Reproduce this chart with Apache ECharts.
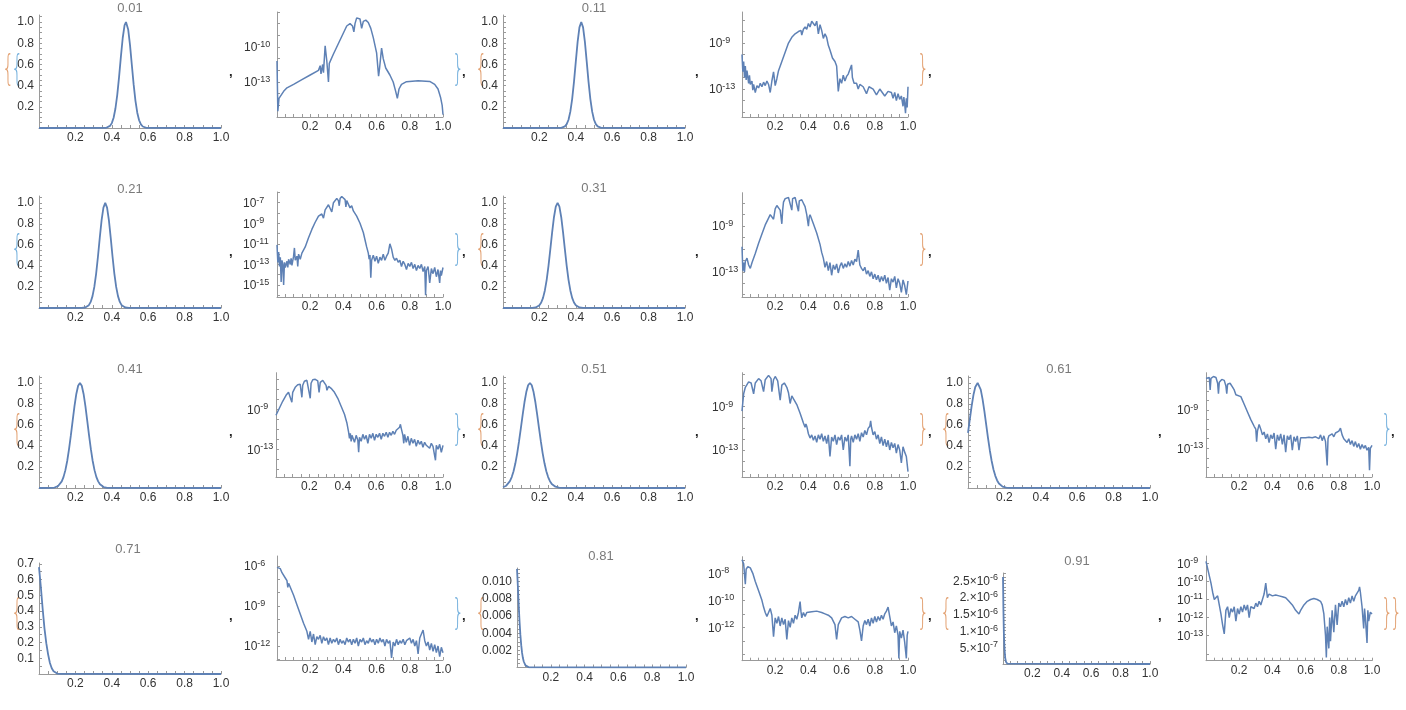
<!DOCTYPE html>
<html><head><meta charset="utf-8">
<script src="https://cdn.jsdelivr.net/npm/echarts@6/dist/echarts.min.js"></script>
<style>html,body{margin:0;padding:0;background:#fff}#c{width:1406px;height:710px}</style>
</head><body><div id="c"></div>
<script>
// ---------------- DATA ----------------
const titles = ['0.01','0.11','0.21','0.31','0.41','0.51','0.61','0.71','0.81','0.91'];
const xLabelVals = [0.2,0.4,0.6,0.8,1.0];
const xTickVals = [0,0.05,0.1,0.15,0.2,0.25,0.3,0.35,0.4,0.45,0.5,0.55,0.6,0.65,0.7,0.75,0.8,0.85,0.9,0.95,1.0];
const linLabelsStd = [0.2,0.4,0.6,0.8,1.0];
const lin8Labels = [0.1,0.2,0.3,0.4,0.5,0.6,0.7];
const lin9Labels = [0.002,0.004,0.006,0.008,0.010];
const lin10LabelVals = [5e-7,1e-6,1.5e-6,2e-6,2.5e-6];
const lin10Mant = ['5.','1.','1.5','2.','2.5'];
const lin10Exp = ['-7','-6','-6','-6','-6'];
const logLabelExps = [[-10,-13],[-9,-13],[-7,-9,-11,-13,-15],[-9,-13],[-9,-13],[-9,-13],[-9,-13],[-6,-9,-12],[-8,-10,-12],[-9,-10,-11,-12,-13]];

const lin1 = [[0,0],[0.37,0.002],[0.38,0.008],[0.39,0.02],[0.40,0.046],[0.41,0.097],[0.42,0.184],[0.43,0.313],[0.44,0.483],[0.45,0.674],[0.46,0.849],[0.47,0.968],[0.478,1.0],[0.49,0.93],[0.50,0.784],[0.51,0.597],[0.52,0.411],[0.53,0.256],[0.54,0.144],[0.55,0.073],[0.56,0.034],[0.57,0.014],[0.58,0.005],[0.59,0.002],[1,0]];
const lin2 = [[0,0],[0.32,0.0015],[0.33,0.0055],[0.34,0.015],[0.35,0.036],[0.36,0.078],[0.37,0.154],[0.38,0.273],[0.39,0.435],[0.40,0.626],[0.41,0.812],[0.42,0.949],[0.43,1.0],[0.44,0.949],[0.45,0.812],[0.46,0.626],[0.47,0.435],[0.48,0.273],[0.49,0.154],[0.50,0.078],[0.51,0.036],[0.52,0.015],[0.53,0.0055],[0.54,0.0017],[1,0]];
const lin3 = [[0,0],[0.234,0.0005],[0.244,0.0016],[0.254,0.0046],[0.264,0.0116],[0.274,0.027],[0.284,0.058],[0.294,0.113],[0.304,0.201],[0.314,0.328],[0.324,0.49],[0.334,0.67],[0.344,0.837],[0.354,0.956],[0.364,1.0],[0.374,0.956],[0.384,0.837],[0.394,0.67],[0.404,0.49],[0.414,0.328],[0.424,0.201],[0.434,0.113],[0.444,0.058],[0.454,0.027],[0.464,0.0116],[0.474,0.0046],[0.484,0.0016],[0.494,0.0005],[1,0]];
const lin4 = [[0,0],[0.16,0.0008],[0.17,0.0021],[0.18,0.0052],[0.19,0.012],[0.20,0.026],[0.21,0.052],[0.22,0.0966],[0.23,0.167],[0.24,0.268],[0.25,0.401],[0.26,0.558],[0.27,0.72],[0.28,0.864],[0.29,0.964],[0.30,1.0],[0.31,0.964],[0.32,0.864],[0.33,0.72],[0.34,0.558],[0.35,0.401],[0.36,0.268],[0.37,0.167],[0.38,0.0966],[0.39,0.052],[0.40,0.026],[0.41,0.012],[0.42,0.0052],[0.43,0.0021],[0.44,0.0008],[1,0]];
const lin5 = [[0,0],[0.065,0.0009],[0.075,0.002],[0.085,0.0044],[0.095,0.0093],[0.105,0.0186],[0.115,0.035],[0.125,0.063],[0.135,0.106],[0.145,0.17],[0.155,0.257],[0.165,0.369],[0.175,0.5],[0.185,0.642],[0.195,0.779],[0.205,0.895],[0.215,0.973],[0.225,1.0],[0.235,0.973],[0.245,0.895],[0.255,0.779],[0.265,0.642],[0.275,0.5],[0.285,0.369],[0.295,0.257],[0.305,0.17],[0.315,0.106],[0.325,0.063],[0.335,0.035],[0.345,0.0186],[0.355,0.0093],[0.365,0.0044],[0.375,0.002],[0.385,0.0009],[1,0]];
const lin6 = [[0,0.007],[0.008,0.012],[0.018,0.022],[0.028,0.038],[0.038,0.065],[0.048,0.104],[0.058,0.16],[0.068,0.235],[0.078,0.33],[0.088,0.443],[0.098,0.568],[0.108,0.696],[0.118,0.816],[0.128,0.913],[0.138,0.978],[0.148,1.0],[0.158,0.978],[0.168,0.913],[0.178,0.816],[0.188,0.696],[0.198,0.568],[0.208,0.443],[0.218,0.33],[0.228,0.235],[0.238,0.16],[0.248,0.104],[0.258,0.065],[0.268,0.038],[0.278,0.022],[0.288,0.012],[0.298,0.0061],[0.308,0.003],[0.318,0.0014],[0.33,0.0005],[1,0]];
const lin7 = [[0,0.525],[0.01,0.654],[0.02,0.779],[0.03,0.886],[0.04,0.962],[0.053,1.0],[0.06,0.989],[0.07,0.936],[0.08,0.846],[0.09,0.731],[0.10,0.603],[0.11,0.475],[0.12,0.357],[0.13,0.257],[0.14,0.176],[0.15,0.116],[0.16,0.072],[0.17,0.043],[0.18,0.025],[0.19,0.0135],[0.20,0.007],[0.21,0.0035],[0.22,0.0016],[0.23,0.0007],[1,0]];
const lin8 = [[0,0.679],[0.01,0.554],[0.02,0.416],[0.03,0.29],[0.04,0.196],[0.05,0.125],[0.06,0.07],[0.07,0.037],[0.08,0.018],[0.09,0.008],[0.10,0.003],[0.11,0.001],[0.12,0.0003],[1,0]];
const lin9 = [[0,0.0115],[0.005,0.0095],[0.01,0.0073],[0.015,0.0054],[0.02,0.0038],[0.025,0.0026],[0.03,0.0017],[0.035,0.0011],[0.04,0.0007],[0.05,0.00025],[0.06,0.00008],[0.07,0.00002],[1,0]];
const lin10 = [[0,2.6e-6],[0.003,1.6e-6],[0.006,9e-7],[0.01,4.5e-7],[0.015,1.8e-7],[0.02,7e-8],[0.03,1e-8],[0.04,1e-9],[1,0]];

// log plots: [x, log10(value)]
const log1 = [[0,-11.2],[0.005,-15.5],[0.012,-14.4],[0.04,-13.8],[0.06,-13.5],[0.1,-13.2],[0.15,-12.8],[0.2,-12.4],[0.25,-12.0],[0.26,-11.6],[0.265,-12.3],[0.275,-11.5],[0.28,-12.2],[0.29,-9.9],[0.30,-11.2],[0.31,-13.0],[0.315,-11.4],[0.34,-10.6],[0.37,-9.7],[0.40,-8.8],[0.42,-8.2],[0.44,-8.0],[0.455,-8.2],[0.463,-8.7],[0.47,-8.0],[0.48,-7.5],[0.49,-7.35],[0.50,-7.6],[0.51,-8.4],[0.52,-7.8],[0.535,-7.7],[0.55,-7.9],[0.565,-8.4],[0.58,-9.2],[0.6,-10.5],[0.612,-12.5],[0.618,-11.8],[0.63,-10.1],[0.64,-11.0],[0.655,-11.8],[0.68,-12.4],[0.70,-13.0],[0.715,-13.8],[0.725,-14.4],[0.735,-13.6],[0.75,-13.2],[0.78,-12.97],[0.85,-12.9],[0.92,-12.95],[0.95,-13.2],[0.97,-13.6],[0.985,-14.3],[0.995,-15.0],[1.0,-15.8]];
const log2 = [[0,-10.0],[0.005,-11.5],[0.01,-10.6],[0.015,-12.0],[0.02,-11.0],[0.025,-12.2],[0.03,-11.4],[0.04,-12.5],[0.045,-11.8],[0.05,-12.6],[0.06,-12.3],[0.065,-13.1],[0.07,-12.6],[0.08,-13.3],[0.09,-12.7],[0.10,-12.9],[0.11,-12.5],[0.12,-12.8],[0.13,-12.4],[0.14,-12.7],[0.15,-12.3],[0.16,-12.6],[0.17,-13.3],[0.18,-12.3],[0.19,-11.5],[0.2,-12.7],[0.21,-12.1],[0.22,-11.4],[0.24,-10.6],[0.26,-9.8],[0.28,-9.0],[0.30,-8.5],[0.32,-8.2],[0.34,-8.0],[0.355,-7.9],[0.36,-8.3],[0.37,-7.8],[0.38,-7.6],[0.39,-7.8],[0.40,-7.3],[0.41,-7.6],[0.42,-7.1],[0.43,-7.0],[0.44,-7.5],[0.45,-7.1],[0.46,-8.2],[0.47,-7.4],[0.48,-7.9],[0.49,-8.6],[0.50,-8.2],[0.51,-8.5],[0.52,-9.2],[0.53,-9.6],[0.545,-10.3],[0.56,-10.6],[0.57,-11.0],[0.58,-13.2],[0.59,-12.1],[0.60,-12.5],[0.61,-11.8],[0.62,-12.3],[0.63,-11.9],[0.64,-11.7],[0.65,-11.3],[0.66,-10.9],[0.665,-12.0],[0.675,-12.5],[0.69,-12.5],[0.70,-13.0],[0.71,-12.6],[0.73,-12.8],[0.75,-13.4],[0.765,-12.8],[0.79,-13.0],[0.81,-13.5],[0.83,-13.0],[0.86,-13.6],[0.88,-13.2],[0.9,-13.3],[0.91,-13.8],[0.92,-13.3],[0.93,-14.0],[0.94,-13.4],[0.95,-13.9],[0.96,-13.6],[0.97,-14.5],[0.975,-13.7],[0.98,-14.3],[0.985,-15.1],[0.99,-13.8],[0.995,-14.6],[1.0,-12.8]];
const log3 = [[0,-11.1],[0.005,-12.8],[0.01,-11.8],[0.015,-13.2],[0.02,-12.3],[0.025,-14.7],[0.03,-12.6],[0.035,-13.0],[0.04,-15.0],[0.045,-12.8],[0.05,-13.3],[0.06,-12.7],[0.065,-13.3],[0.07,-12.5],[0.08,-13.0],[0.085,-12.4],[0.09,-13.1],[0.10,-12.2],[0.105,-11.4],[0.11,-12.6],[0.12,-12.2],[0.125,-13.2],[0.13,-12.0],[0.14,-12.5],[0.15,-11.9],[0.17,-11.3],[0.19,-10.4],[0.21,-9.6],[0.23,-8.9],[0.25,-8.3],[0.27,-8.1],[0.28,-8.5],[0.29,-7.7],[0.31,-7.2],[0.32,-7.3],[0.33,-7.9],[0.34,-7.0],[0.36,-6.6],[0.37,-6.8],[0.375,-7.3],[0.38,-6.6],[0.39,-6.4],[0.40,-6.5],[0.41,-6.7],[0.415,-7.4],[0.42,-6.8],[0.43,-6.9],[0.44,-7.5],[0.45,-7.3],[0.46,-7.8],[0.48,-8.3],[0.50,-9.0],[0.52,-9.9],[0.53,-10.6],[0.54,-11.3],[0.55,-11.9],[0.555,-12.5],[0.56,-12.1],[0.565,-14.3],[0.57,-12.6],[0.58,-12.1],[0.59,-12.7],[0.60,-12.2],[0.61,-12.9],[0.62,-12.3],[0.63,-12.6],[0.64,-12.0],[0.65,-12.6],[0.66,-12.2],[0.67,-11.9],[0.68,-11.0],[0.69,-11.5],[0.70,-12.3],[0.71,-12.6],[0.72,-12.4],[0.73,-12.8],[0.74,-12.6],[0.75,-13.2],[0.76,-12.7],[0.77,-13.0],[0.78,-13.5],[0.79,-12.9],[0.80,-13.2],[0.81,-12.8],[0.82,-13.4],[0.83,-13.0],[0.84,-13.6],[0.85,-13.1],[0.86,-13.4],[0.87,-13.0],[0.88,-13.7],[0.89,-13.2],[0.895,-16.0],[0.9,-13.6],[0.91,-13.2],[0.92,-14.8],[0.93,-13.4],[0.94,-13.9],[0.95,-13.3],[0.96,-14.2],[0.97,-13.5],[0.98,-14.8],[0.985,-13.6],[0.99,-14.1],[1.0,-13.3]];
const log4 = [[0,-10.8],[0.005,-12.9],[0.01,-12.2],[0.015,-13.0],[0.02,-12.1],[0.03,-11.8],[0.04,-12.4],[0.05,-12.7],[0.06,-12.2],[0.08,-11.4],[0.10,-10.5],[0.12,-9.7],[0.14,-8.9],[0.16,-8.3],[0.17,-8.0],[0.18,-7.9],[0.19,-8.4],[0.20,-7.5],[0.21,-7.2],[0.22,-7.2],[0.23,-7.6],[0.24,-8.8],[0.245,-7.6],[0.25,-6.9],[0.26,-6.6],[0.27,-6.6],[0.28,-6.5],[0.29,-6.45],[0.30,-7.6],[0.305,-6.6],[0.31,-6.45],[0.32,-6.5],[0.33,-6.6],[0.34,-7.7],[0.345,-6.8],[0.36,-6.7],[0.37,-7.0],[0.38,-7.3],[0.39,-8.0],[0.40,-9.0],[0.405,-8.2],[0.41,-8.0],[0.43,-8.8],[0.45,-9.6],[0.47,-10.6],[0.48,-11.3],[0.49,-11.8],[0.50,-12.6],[0.51,-12.1],[0.52,-12.9],[0.53,-12.2],[0.54,-13.3],[0.55,-12.4],[0.56,-12.8],[0.57,-12.3],[0.58,-13.1],[0.59,-12.5],[0.60,-12.2],[0.61,-12.7],[0.62,-12.3],[0.63,-12.6],[0.64,-12.1],[0.65,-12.5],[0.66,-12.0],[0.67,-12.4],[0.68,-11.9],[0.69,-12.1],[0.70,-11.1],[0.71,-12.4],[0.72,-12.7],[0.73,-12.9],[0.74,-12.6],[0.75,-13.2],[0.76,-12.9],[0.77,-13.4],[0.78,-13.0],[0.79,-13.6],[0.80,-13.2],[0.81,-13.7],[0.82,-13.3],[0.83,-13.9],[0.84,-13.4],[0.85,-13.8],[0.86,-13.3],[0.87,-14.0],[0.88,-13.5],[0.89,-14.6],[0.9,-13.6],[0.91,-13.9],[0.92,-13.4],[0.93,-14.4],[0.94,-13.6],[0.95,-14.0],[0.96,-14.8],[0.97,-13.7],[0.98,-14.2],[0.99,-15.0],[1.0,-13.8]];
const log5 = [[0,-9.6],[0.02,-8.9],[0.04,-8.2],[0.06,-7.6],[0.075,-7.3],[0.085,-7.25],[0.095,-8.3],[0.10,-7.3],[0.115,-6.8],[0.13,-6.55],[0.145,-6.5],[0.155,-7.8],[0.16,-6.6],[0.17,-6.2],[0.185,-6.1],[0.195,-6.2],[0.205,-7.9],[0.21,-6.4],[0.22,-6.05],[0.235,-6.0],[0.25,-6.15],[0.258,-7.3],[0.265,-6.3],[0.28,-6.1],[0.29,-6.25],[0.30,-6.6],[0.305,-7.1],[0.315,-6.7],[0.33,-6.9],[0.35,-7.3],[0.37,-7.9],[0.39,-8.7],[0.41,-9.5],[0.425,-10.4],[0.435,-11.3],[0.44,-11.9],[0.445,-11.4],[0.45,-12.2],[0.455,-11.6],[0.46,-11.5],[0.47,-12.3],[0.48,-11.6],[0.49,-12.1],[0.495,-13.3],[0.50,-11.8],[0.51,-12.2],[0.52,-11.5],[0.53,-12.0],[0.54,-11.6],[0.55,-12.4],[0.56,-11.5],[0.57,-11.9],[0.58,-11.4],[0.59,-12.1],[0.60,-11.5],[0.61,-11.8],[0.62,-11.4],[0.63,-12.0],[0.64,-11.4],[0.65,-11.7],[0.66,-11.3],[0.67,-11.8],[0.68,-11.3],[0.69,-11.6],[0.70,-11.2],[0.71,-11.5],[0.72,-11.1],[0.73,-11.3],[0.74,-10.8],[0.745,-10.5],[0.75,-10.9],[0.76,-11.6],[0.765,-12.4],[0.77,-11.5],[0.78,-12.3],[0.79,-11.7],[0.80,-12.6],[0.81,-11.9],[0.82,-12.4],[0.83,-12.0],[0.84,-12.7],[0.85,-12.1],[0.86,-12.5],[0.87,-12.2],[0.88,-12.8],[0.89,-12.3],[0.9,-12.6],[0.91,-12.4],[0.92,-12.9],[0.93,-12.4],[0.94,-12.7],[0.95,-12.5],[0.955,-14.1],[0.96,-12.6],[0.97,-13.0],[0.98,-12.5],[0.99,-13.3],[1.0,-12.6]];
const log6 = [[0,-9.4],[0.01,-7.8],[0.02,-7.2],[0.04,-6.7],[0.055,-6.8],[0.07,-7.8],[0.08,-6.8],[0.10,-6.4],[0.115,-6.6],[0.13,-7.6],[0.14,-6.5],[0.16,-6.1],[0.175,-6.4],[0.18,-7.6],[0.19,-6.5],[0.20,-6.2],[0.215,-6.6],[0.23,-8.4],[0.24,-7.0],[0.255,-6.8],[0.27,-7.2],[0.28,-7.7],[0.29,-8.7],[0.30,-8.0],[0.31,-8.1],[0.33,-8.8],[0.35,-9.6],[0.37,-10.5],[0.38,-10.9],[0.385,-10.6],[0.39,-10.8],[0.40,-11.5],[0.41,-11.9],[0.42,-11.6],[0.43,-12.1],[0.44,-11.7],[0.45,-12.3],[0.46,-11.6],[0.47,-12.0],[0.48,-11.5],[0.49,-12.2],[0.50,-11.7],[0.51,-12.4],[0.52,-11.6],[0.53,-13.6],[0.54,-11.8],[0.55,-12.2],[0.56,-11.6],[0.57,-12.5],[0.58,-11.8],[0.59,-12.1],[0.60,-11.6],[0.61,-13.0],[0.62,-11.8],[0.63,-12.2],[0.64,-11.6],[0.65,-14.5],[0.655,-12.0],[0.66,-11.7],[0.67,-12.3],[0.68,-11.6],[0.69,-12.0],[0.70,-11.5],[0.71,-12.2],[0.72,-11.4],[0.73,-11.8],[0.74,-11.2],[0.75,-11.6],[0.76,-11.0],[0.77,-10.8],[0.775,-10.3],[0.78,-10.9],[0.79,-11.6],[0.80,-11.3],[0.81,-12.0],[0.82,-11.6],[0.83,-12.4],[0.84,-11.8],[0.85,-12.6],[0.86,-12.0],[0.87,-12.7],[0.88,-12.1],[0.89,-13.0],[0.90,-12.3],[0.91,-12.8],[0.92,-12.4],[0.93,-13.3],[0.94,-12.5],[0.95,-13.0],[0.96,-14.2],[0.97,-12.7],[0.98,-13.2],[0.99,-13.6],[1.0,-15.0]];
const log7 = [[0,-5.7],[0.01,-5.5],[0.02,-5.6],[0.025,-6.9],[0.03,-5.7],[0.045,-5.5],[0.06,-5.6],[0.07,-6.2],[0.075,-7.3],[0.08,-6.1],[0.095,-5.8],[0.11,-5.9],[0.12,-6.5],[0.125,-7.3],[0.13,-6.3],[0.145,-6.2],[0.16,-6.6],[0.17,-6.9],[0.18,-7.4],[0.19,-7.2],[0.21,-7.6],[0.23,-8.4],[0.25,-9.2],[0.27,-10.0],[0.29,-10.7],[0.30,-11.0],[0.305,-12.3],[0.31,-11.2],[0.32,-10.5],[0.33,-11.0],[0.34,-11.6],[0.35,-11.3],[0.36,-12.0],[0.37,-11.5],[0.38,-12.4],[0.39,-11.6],[0.40,-12.0],[0.41,-11.4],[0.42,-13.1],[0.43,-11.6],[0.44,-12.2],[0.45,-11.5],[0.46,-12.6],[0.47,-11.6],[0.48,-13.4],[0.49,-11.7],[0.50,-12.1],[0.51,-11.6],[0.52,-13.2],[0.53,-11.8],[0.54,-12.3],[0.55,-11.7],[0.56,-13.2],[0.57,-11.9],[0.58,-12.0],[0.60,-11.9],[0.62,-11.85],[0.64,-11.9],[0.66,-11.8],[0.68,-12.0],[0.69,-11.6],[0.70,-12.2],[0.71,-11.7],[0.72,-12.3],[0.73,-14.8],[0.735,-12.0],[0.74,-11.7],[0.75,-11.9],[0.76,-11.5],[0.77,-11.8],[0.78,-11.4],[0.79,-11.6],[0.80,-11.2],[0.81,-10.9],[0.82,-11.6],[0.83,-12.0],[0.84,-11.8],[0.85,-12.4],[0.86,-12.0],[0.87,-12.6],[0.88,-12.2],[0.89,-12.8],[0.90,-12.3],[0.91,-12.9],[0.92,-12.5],[0.93,-13.1],[0.94,-12.6],[0.95,-13.0],[0.96,-12.7],[0.97,-13.2],[0.98,-12.9],[0.985,-15.3],[0.99,-13.0],[1.0,-12.7]];
const log8 = [[0,-6.1],[0.01,-6.0],[0.02,-6.2],[0.03,-6.5],[0.04,-6.6],[0.05,-6.9],[0.06,-7.1],[0.065,-7.6],[0.07,-7.3],[0.08,-7.6],[0.09,-7.9],[0.10,-8.2],[0.12,-8.9],[0.14,-9.6],[0.16,-10.3],[0.18,-10.9],[0.19,-11.5],[0.20,-10.9],[0.21,-11.7],[0.22,-11.1],[0.23,-11.9],[0.24,-11.3],[0.25,-11.5],[0.26,-11.2],[0.27,-11.8],[0.28,-11.3],[0.29,-11.6],[0.30,-11.4],[0.31,-11.9],[0.32,-11.4],[0.33,-11.8],[0.34,-11.5],[0.35,-11.7],[0.36,-11.4],[0.37,-11.9],[0.38,-11.5],[0.39,-11.8],[0.40,-11.6],[0.41,-11.9],[0.42,-11.4],[0.43,-11.7],[0.44,-11.5],[0.45,-11.9],[0.46,-11.5],[0.47,-11.8],[0.48,-11.4],[0.49,-12.0],[0.50,-11.5],[0.51,-11.7],[0.52,-11.4],[0.53,-11.9],[0.54,-11.6],[0.55,-11.8],[0.56,-11.4],[0.57,-11.7],[0.58,-11.5],[0.59,-11.9],[0.60,-11.5],[0.61,-11.8],[0.62,-11.4],[0.63,-11.7],[0.64,-11.5],[0.65,-12.0],[0.66,-11.5],[0.67,-11.8],[0.68,-11.6],[0.69,-12.9],[0.70,-11.7],[0.71,-12.0],[0.72,-11.5],[0.73,-11.9],[0.74,-11.6],[0.75,-11.8],[0.76,-11.5],[0.77,-11.9],[0.78,-11.6],[0.79,-11.7],[0.80,-11.4],[0.81,-11.8],[0.82,-11.5],[0.83,-12.0],[0.84,-11.6],[0.85,-12.6],[0.86,-11.4],[0.87,-11.1],[0.88,-10.8],[0.89,-11.6],[0.90,-12.0],[0.91,-11.7],[0.92,-12.3],[0.93,-11.8],[0.94,-12.4],[0.95,-11.9],[0.96,-12.5],[0.97,-12.0],[0.98,-12.8],[0.99,-12.1],[1.0,-12.5]];
const log9 = [[0,-7.0],[0.01,-7.3],[0.02,-8.8],[0.025,-7.7],[0.035,-7.5],[0.05,-7.6],[0.065,-8.0],[0.08,-8.6],[0.10,-9.3],[0.12,-10.0],[0.13,-10.5],[0.14,-10.9],[0.15,-11.2],[0.16,-10.9],[0.17,-10.6],[0.18,-11.1],[0.19,-12.7],[0.20,-11.3],[0.21,-11.7],[0.22,-11.2],[0.23,-11.9],[0.24,-11.3],[0.25,-11.8],[0.26,-11.4],[0.27,-12.9],[0.28,-11.5],[0.29,-12.0],[0.30,-11.3],[0.31,-11.7],[0.32,-11.1],[0.33,-11.4],[0.34,-10.9],[0.35,-10.1],[0.355,-10.8],[0.36,-11.3],[0.37,-10.9],[0.38,-11.2],[0.39,-10.9],[0.40,-11.0],[0.42,-10.85],[0.45,-10.8],[0.48,-10.9],[0.50,-11.0],[0.52,-11.1],[0.54,-11.3],[0.56,-11.8],[0.57,-12.9],[0.58,-11.8],[0.60,-11.3],[0.62,-11.2],[0.64,-11.3],[0.66,-11.2],[0.68,-11.4],[0.70,-11.6],[0.71,-12.2],[0.72,-13.0],[0.73,-11.9],[0.74,-11.5],[0.75,-11.8],[0.76,-11.4],[0.77,-11.9],[0.78,-11.3],[0.79,-11.7],[0.80,-11.2],[0.81,-11.6],[0.82,-11.2],[0.83,-11.5],[0.84,-11.1],[0.85,-11.4],[0.86,-11.0],[0.87,-10.8],[0.88,-10.5],[0.89,-11.2],[0.90,-11.9],[0.91,-11.6],[0.92,-12.4],[0.93,-11.9],[0.94,-12.6],[0.945,-14.3],[0.95,-12.3],[0.96,-12.8],[0.97,-12.2],[0.98,-13.1],[0.99,-14.3],[0.995,-12.6],[1.0,-12.3]];
const log10 = [[0,-8.9],[0.01,-9.3],[0.02,-9.7],[0.03,-10.1],[0.04,-10.6],[0.05,-11.0],[0.06,-11.1],[0.07,-10.8],[0.08,-11.3],[0.09,-11.8],[0.10,-12.4],[0.11,-12.9],[0.12,-11.6],[0.13,-11.4],[0.14,-12.0],[0.15,-11.5],[0.16,-11.7],[0.17,-11.4],[0.18,-12.2],[0.19,-11.5],[0.20,-11.8],[0.21,-11.4],[0.22,-11.7],[0.23,-11.3],[0.24,-11.6],[0.25,-11.3],[0.26,-12.0],[0.27,-11.4],[0.28,-11.3],[0.29,-11.5],[0.30,-11.2],[0.31,-11.4],[0.32,-11.1],[0.33,-11.3],[0.34,-11.0],[0.35,-10.7],[0.36,-10.1],[0.365,-10.5],[0.37,-10.9],[0.38,-10.7],[0.40,-10.8],[0.42,-10.75],[0.44,-10.8],[0.46,-10.85],[0.48,-10.9],[0.50,-11.1],[0.52,-11.3],[0.54,-11.6],[0.56,-11.8],[0.57,-11.6],[0.59,-11.3],[0.61,-11.1],[0.63,-11.0],[0.65,-10.95],[0.67,-11.0],[0.69,-11.1],[0.70,-11.3],[0.71,-11.8],[0.72,-13.0],[0.725,-14.2],[0.73,-12.5],[0.74,-13.7],[0.745,-12.0],[0.75,-13.3],[0.76,-11.6],[0.77,-12.8],[0.78,-11.3],[0.79,-12.4],[0.80,-11.2],[0.81,-11.4],[0.82,-11.1],[0.83,-11.4],[0.84,-11.0],[0.85,-11.3],[0.86,-10.9],[0.87,-11.2],[0.88,-10.8],[0.89,-11.1],[0.90,-10.8],[0.91,-10.9],[0.92,-10.5],[0.925,-10.3],[0.93,-10.6],[0.94,-11.4],[0.95,-12.6],[0.955,-11.5],[0.96,-12.0],[0.97,-13.4],[0.975,-11.6],[0.98,-12.2],[0.99,-11.7],[1.0,-11.8]];

// ---------------- LAYOUT ----------------
const linBoxes = [
 {L:39, W:182, T:15, B:128, max:1.066, tx:130, ty:8},
 {L:503, W:182, T:15, B:128, max:1.066, tx:594, ty:8},
 {L:39, W:182, T:196, B:308, max:1.066, tx:130, ty:189},
 {L:503, W:182, T:196, B:308, max:1.066, tx:594, ty:188},
 {L:39, W:182, T:376, B:488, max:1.066, tx:130, ty:369},
 {L:503, W:182, T:376, B:488, max:1.066, tx:594, ty:369},
 {L:968, W:182, T:376, B:488, max:1.066, tx:1059, ty:369},
 {L:39, W:182, T:563, B:674, max:0.705, tx:128, ty:549},
 {L:517, W:169, T:568, B:667.5, max:0.0116, tx:601, ty:556},
 {L:1003, W:147, T:573, B:664, max:2.72e-6, tx:1077, ty:561}
];
const logBoxes = [
 {L:277, W:166, T:12, B:117, min:-16, max:-7, lm:33},
 {L:742, W:166, T:12, B:117, min:-15.43, max:-6.3, lm:33},
 {L:277, W:166, T:192, B:297, min:-16.17, max:-5.96, lm:34},
 {L:742, W:166, T:192.7, B:297, min:-15.2, max:-6.08, lm:30},
 {L:276, W:167, T:372.7, B:477, min:-15.77, max:-5.34, lm:29},
 {L:742, W:166, T:372.7, B:477, min:-15.5, max:-5.85, lm:30},
 {L:1206, W:166, T:372.7, B:477, min:-16, max:-5.1, lm:29},
 {L:277, W:166, T:556, B:660, min:-13.05, max:-5.25, lm:33},
 {L:742, W:166, T:556.7, B:660.7, min:-14.47, max:-6.77, lm:34},
 {L:1206, W:166, T:556, B:660.7, min:-14.38, max:-8.6, lm:29}
];

const linData = [lin1,lin2,lin3,lin4,lin5,lin6,lin7,lin8,lin9,lin10];
const logData = [log1,log2,log3,log4,log5,log6,log7,log8,log9,log10];

const AX = '#9a9a9a', LAB = '#333333', LINE = '#5e81b5';
const FF = '"Liberation Sans", Arial, sans-serif';
const ORG = '#e3a273', BLU = '#77b2de';

function steps(a, b, d) { const r = []; const n = Math.round((b - a) / d); for (let k = 0; k <= n; k++) r.push(+(a + k * d).toPrecision(10)); return r; }

const grids = [], xAxes = [], yAxes = [], series = [], graphics = [];

function xAxisOpt(gi) {
  return { type: 'value', gridIndex: gi, min: 0, max: 1,
    axisLine: { show: true, onZero: false, lineStyle: { color: AX, width: 1 } },
    axisTick: { show: true, inside: true, length: 3, customValues: xTickVals, lineStyle: { color: AX } },
    axisLabel: { customValues: xLabelVals, formatter: v => v.toFixed(1), margin: 4, fontSize: 12, color: LAB, fontFamily: FF, showMinLabel: true, showMaxLabel: true },
    splitLine: { show: false } };
}

const linYLabels = [linLabelsStd, linLabelsStd, linLabelsStd, linLabelsStd, linLabelsStd, linLabelsStd, linLabelsStd, lin8Labels, lin9Labels, lin10LabelVals];
const linYTickStep = [0.05,0.05,0.05,0.05,0.05,0.05,0.05,0.05,0.0005,1e-7];
const richSup = { b: { fontSize: 12, fontFamily: FF, color: LAB, lineHeight: 14, verticalAlign: 'bottom' }, s: { fontSize: 9, fontFamily: FF, color: LAB, lineHeight: 8, verticalAlign: 'top' } };

linBoxes.forEach((b, i) => {
  const gi = grids.length;
  grids.push({ left: b.L, top: b.T, width: b.W, height: b.B - b.T });
  xAxes.push(xAxisOpt(gi));
  let fmt = v => v.toFixed(1), rich;
  if (i === 8) fmt = v => v.toFixed(3);
  if (i === 9) {
    fmt = v => { const k = lin10LabelVals.findIndex(u => Math.abs(u - v) < 1e-10); return k < 0 ? '' : '{b|' + lin10Mant[k] + '×10}{s|' + lin10Exp[k] + '}'; };
    rich = richSup;
  }
  yAxes.push({ type: 'value', gridIndex: gi, min: 0, max: b.max,
    axisLine: { show: true, onZero: false, lineStyle: { color: AX, width: 1 } },
    axisTick: { show: true, inside: true, length: 3, customValues: steps(0, b.max, linYTickStep[i]).filter(v => v <= b.max), lineStyle: { color: AX } },
    axisLabel: { customValues: linYLabels[i], formatter: fmt, rich: rich, margin: 5, fontSize: 12, color: LAB, fontFamily: FF, showMinLabel: true, showMaxLabel: true, hideOverlap: false },
    splitLine: { show: false } });
  series.push({ type: 'line', xAxisIndex: gi, yAxisIndex: gi, data: linData[i], showSymbol: false, symbol: 'none',
    lineStyle: { color: LINE, width: 1.8 }, animation: false });
  graphics.push({ type: 'text', x: b.tx, y: b.ty, style: { text: titles[i], fill: '#7a7a7a', font: '13px ' + FF, align: 'center', verticalAlign: 'middle', textAlign: 'center', textVerticalAlign: 'middle' } });
});

logBoxes.forEach((b, i) => {
  const gi = grids.length;
  grids.push({ left: b.L, top: b.T, width: b.W, height: b.B - b.T });
  xAxes.push(xAxisOpt(gi));
  const ticks = steps(Math.ceil(b.min), Math.floor(b.max), 1);
  yAxes.push({ type: 'value', gridIndex: gi, min: b.min, max: b.max,
    axisLine: { show: true, onZero: false, lineStyle: { color: AX, width: 1 } },
    axisTick: { show: true, inside: true, length: 3, customValues: ticks, lineStyle: { color: AX } },
    axisLabel: { customValues: logLabelExps[i], align: 'left', margin: b.lm, showMinLabel: true, showMaxLabel: true, hideOverlap: false,
      formatter: v => '{b|10}{s|-' + Math.round(-v) + '}', rich: richSup },
    splitLine: { show: false } });
  series.push({ type: 'line', xAxisIndex: gi, yAxisIndex: gi, data: logData[i], showSymbol: false, symbol: 'none',
    lineStyle: { color: LINE, width: 1.5 }, animation: false });
});

// braces and commas
const rowY = [71, 251, 431, 615];
function brace(ch, x, y, col) {
  graphics.push({ type: 'text', x: x, y: y, scaleX: 0.55, style: { text: ch, fill: col, font: '200 35px "DejaVu Sans"', verticalAlign: 'middle', textVerticalAlign: 'middle' } });
}
function comma(x, y) {
  graphics.push({ type: 'text', x: x, y: y, style: { text: ',', fill: '#222', font: 'bold 13px ' + FF, verticalAlign: 'middle', textVerticalAlign: 'middle' } });
}
// row 1
brace('{', 2, rowY[0], ORG); brace('{', 11, rowY[0], BLU);
comma(229, rowY[0]+1); brace('}', 452, rowY[0], BLU); comma(462, rowY[0]+1);
brace('{', 475, rowY[0], ORG); comma(695, rowY[0]+1); brace('}', 917, rowY[0], ORG); comma(928, rowY[0]+1);
// row 2
brace('{', 11, rowY[1], BLU); comma(229, rowY[1]+1); brace('}', 452, rowY[1], BLU); comma(462, rowY[1]+1);
brace('{', 475, rowY[1], ORG); comma(695, rowY[1]+1); brace('}', 917, rowY[1], ORG); comma(928, rowY[1]+1);
// row 3
brace('{', 11, rowY[2], ORG); comma(229, rowY[2]+1); brace('}', 452, rowY[2], BLU); comma(462, rowY[2]+1);
brace('{', 475, rowY[2], ORG); comma(695, rowY[2]+1); brace('}', 917, rowY[2], ORG); comma(928, rowY[2]+1);
brace('{', 940, rowY[2], ORG); comma(1158, rowY[2]+1); brace('}', 1381, rowY[2], BLU); comma(1391, rowY[2]+1);
// row 4
brace('{', 11, rowY[3], ORG); comma(229, rowY[3]+1); brace('}', 452, rowY[3], BLU); comma(462, rowY[3]+1);
brace('{', 475, rowY[3], ORG); comma(695, rowY[3]+1); brace('}', 917, rowY[3], ORG); comma(928, rowY[3]+1);
brace('{', 940, rowY[3], ORG); comma(1158, rowY[3]+1); brace('}', 1381, rowY[3], ORG); brace('}', 1390, rowY[3], ORG);

const chart = echarts.init(document.getElementById('c'), null, { renderer: 'canvas' });
chart.setOption({ animation: false, backgroundColor: '#ffffff', grid: grids, xAxis: xAxes, yAxis: yAxes, series: series, graphic: { elements: graphics } });
</script></body></html>
